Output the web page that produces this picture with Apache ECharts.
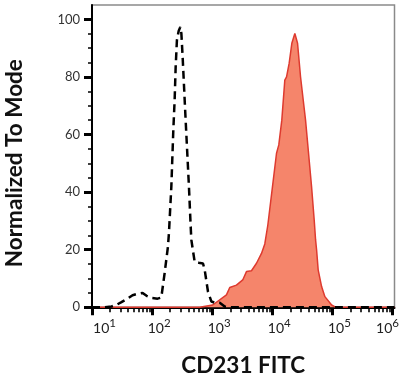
<!DOCTYPE html>
<html>
<head>
<meta charset="utf-8">
<script src="https://cdn.jsdelivr.net/npm/echarts@6/dist/echarts.min.js"></script>
<style>
html,body{margin:0;padding:0;background:#fff;}
#chart{width:400px;height:379px;}
</style>
</head>
<body>
<div id="chart"></div>
<script>
// x positions are log10(fluorescence intensity)
const stainedLog = [1.0, 2.79, 3.008, 3.237, 3.292, 3.403, 3.508, 3.57, 3.653, 3.737, 3.82, 3.875, 3.925, 4.003, 4.07, 4.108, 4.158, 4.208, 4.237, 4.28, 4.325, 4.375, 4.42, 4.47, 4.553, 4.603, 4.653, 4.697, 4.72, 4.737, 4.763, 4.82, 4.875, 4.987, 5.058, 6.033];
const stainedMode = [0, 0, 0.8, 4.3, 6.9, 7.7, 9.5, 12.4, 12.7, 15.3, 18.7, 22, 28.5, 41.9, 53.5, 56.4, 65, 78.9, 80, 84.7, 91.7, 95.1, 91.7, 80, 65, 53.5, 41.9, 30.3, 23.4, 19.9, 13, 7.2, 3.7, 0.8, 0, 0];

const isotypeLog = [1.0, 1.208, 1.325, 1.403, 1.49, 1.59, 1.675, 1.742, 1.842, 1.908, 2.0, 2.092, 2.153, 2.208, 2.263, 2.28, 2.32, 2.353, 2.375, 2.392, 2.413, 2.442, 2.47, 2.487, 2.508, 2.547, 2.558, 2.613, 2.642, 2.653, 2.708, 2.775, 2.847, 2.875, 2.93, 2.987, 3.042, 3.125, 3.208, 3.29, 6.033];
const isotypeMode = [0, 0, 0.3, 0.8, 1.8, 3.0, 4.2, 4.6, 5.0, 4.0, 3.2, 3.0, 3.4, 11.8, 21, 25.7, 41.9, 61.6, 72, 83.5, 92.8, 96, 97.4, 95.1, 87, 69.7, 65, 41.9, 28, 23.4, 15.8, 15.5, 15.2, 13, 5.4, 2, 1.6, 1.6, 0.3, 0, 0];

const xMajorTicks = [1, 2, 3, 4, 5, 6];
const yMajorTicks = [0, 20, 40, 60, 80, 100];
const yMinorTicks = [5, 10, 15, 25, 30, 35, 45, 50, 55, 65, 70, 75, 85, 90, 95];
const xMinorTicks = [];
for (let d = 1; d < 6; d++) {
  for (let m = 2; m <= 9; m++) xMinorTicks.push(d + Math.log10(m));
}

const xMin = 1, xMax = 6.033, yMin = 0, yMax = 105;
const font = 'Lato, "Noto Sans", sans-serif';

const chart = echarts.init(document.getElementById('chart'), null, {renderer: 'canvas'});
chart.setOption({
  animation: false,
  backgroundColor: '#fff',
  grid: {left: 92, right: 5.5, top: 5, bottom: 71.7, containLabel: false, outerBoundsMode: 'none',
         show: true, borderColor: '#8a8a8a', borderWidth: 1.5, backgroundColor: 'transparent'},
  xAxis: [{
    type: 'value', min: xMin, max: xMax, position: 'bottom',
    axisLine: {onZero: false, lineStyle: {color: '#000', width: 2}},
    axisTick: {customValues: xMajorTicks, length: 8, lineStyle: {color: '#000', width: 3}},
    axisLabel: {
      customValues: xMajorTicks, margin: 10, color: '#222', fontFamily: font,
      formatter: function (v) {
        const e = Math.round(v);
        if (e === xMajorTicks[0]) return '{bf|10}{s|' + e + '}';
        if (e === xMajorTicks[xMajorTicks.length - 1]) return '{b|10}{sl|' + e + '}';
        return '{bm|10}{s|' + e + '}';
      },
      rich: {
        bf: {fontSize: 14, fontFamily: font, color: '#222', padding: [0, 0, 0, 25]},
        bm: {fontSize: 14, fontFamily: font, color: '#222', padding: [0, 0, 0, 14]},
        b: {fontSize: 14, fontFamily: font, color: '#222'},
        s: {fontSize: 11.5, fontFamily: font, color: '#222', padding: [0, 0, 10, 0]},
        sl: {fontSize: 11.5, fontFamily: font, color: '#222', padding: [0, 10, 10, 0]}
      }
    },
    splitLine: {show: false},
    name: 'CD231 FITC', nameLocation: 'middle', nameGap: 47,
    nameTextStyle: {fontFamily: font, fontWeight: 'bold', fontSize: 22.5, color: '#111'}
  }, {
    type: 'value', min: xMin, max: xMax, position: 'bottom',
    axisLine: {show: false},
    axisTick: {customValues: xMinorTicks, length: 5, lineStyle: {color: '#000', width: 1.6}},
    axisLabel: {show: false},
    splitLine: {show: false}
  }],
  yAxis: [{
    type: 'value', min: yMin, max: yMax, position: 'left',
    axisLine: {show: true, onZero: false, lineStyle: {color: '#000', width: 2}},
    axisTick: {show: true, customValues: yMajorTicks, length: 8, lineStyle: {color: '#000', width: 3}},
    axisLabel: {customValues: yMajorTicks, margin: 12, color: '#333', fontSize: 13, fontFamily: font},
    splitLine: {show: false},
    name: 'Normalized To Mode', nameLocation: 'middle', nameGap: 66,
    nameTextStyle: {fontFamily: font, fontWeight: 'bold', fontSize: 22.5, color: '#111', padding: [0, 14, 0, 0]}
  }, {
    type: 'value', min: yMin, max: yMax, position: 'left',
    axisLine: {show: false},
    axisTick: {show: true, customValues: yMinorTicks, length: 4, lineStyle: {color: '#000', width: 1.5}},
    axisLabel: {show: false},
    splitLine: {show: false}
  }],
  series: [{
    type: 'line', xAxisIndex: 0, yAxisIndex: 0,
    data: stainedLog.map((x, i) => [x, stainedMode[i]]),
    showSymbol: false, smooth: false, clip: true,
    lineStyle: {color: '#de3a2f', width: 1.5},
    areaStyle: {color: '#f5856b', opacity: 1},
    z: 3
  }, {
    type: 'line', xAxisIndex: 0, yAxisIndex: 0,
    data: isotypeLog.map((x, i) => [x, isotypeMode[i]]),
    showSymbol: false, smooth: false, clip: true,
    lineStyle: {color: '#000', width: 2.5, type: [8, 5]},
    z: 4
  }]
});
</script>
</body>
</html>
